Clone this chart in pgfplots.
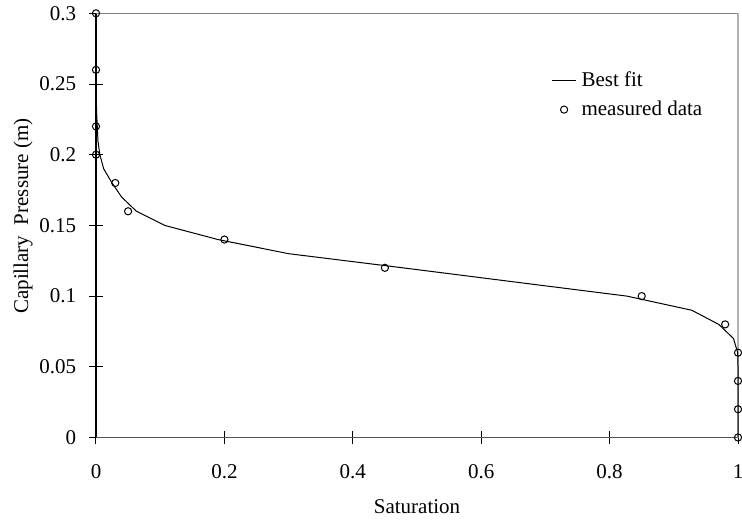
\documentclass[border=0pt]{standalone}
\usepackage{pgfplots}
\pgfplotsset{compat=1.18}
\usepackage{fontspec}
\setmainfont{Liberation Serif}
\begin{document}
\fontsize{10.5}{12.5}\selectfont
\begin{tikzpicture}
\path[use as bounding box] (-48pt,-41.25pt) rectangle (323pt,218.75pt);
\begin{axis}[
  scale only axis,
  width=321pt, height=212.1pt,
  xmin=0, xmax=1, ymin=0, ymax=0.3,
  xtick={0,0.2,0.4,0.6,0.8,1},
  ytick={0,0.05,0.1,0.15,0.2,0.25,0.3},
  xticklabels={0,0.2,0.4,0.6,0.8,1},
  yticklabels={0,0.05,0.1,0.15,0.2,0.25,0.3},
  xtick pos=left, ytick pos=left,
  tick align=center,
  major tick length=6.5pt,
  tick style={black, line width=0.5pt},
  axis line style={draw=none},
  clip=false,
  xlabel={Saturation},
  ylabel={Capillary\ \ Pressure (m)},
  x label style={at={(axis description cs:0.5,-0.178)}, anchor=base},
  y label style={at={(axis description cs:-0.1137,0.522)}, anchor=center, rotate=0},
  ticklabel style={font=\fontsize{10.5}{12.5}\selectfont, inner sep=0pt},
  label style={font=\fontsize{10.5}{12.5}\selectfont},
  yticklabel style={anchor=east, xshift=-6.5pt},
  xticklabel style={anchor=north, yshift=-10.25pt},
  legend cell align=left,
  legend style={draw=none, fill=none, at={(axis description cs:0.709,0.8635)}, anchor=north west,
    inner sep=0pt, column sep=2.5pt, row sep=5.6pt, nodes={inner sep=0pt, font=\fontsize{10.5}{12.5}\selectfont}},
]
\draw[black, line width=0.65pt] (rel axis cs:0,0) -- (rel axis cs:0,1);
\draw[black!67, line width=0.8pt] (rel axis cs:0,0) -- (rel axis cs:1,0);
\draw[black!50, line width=0.6pt] (rel axis cs:0,1) -- (rel axis cs:1,1);
\draw[black!30, line width=0.6pt] (rel axis cs:1,0) -- (rel axis cs:1,1);
\addplot[black, line width=0.5pt, no marks,
  legend image code/.code={\draw[black, line width=0.5pt] (0pt,0pt) -- (12pt,0pt);}]
  coordinates {
  (0,0.3) (0,0.25) (0.001,0.23) (0.003,0.21) (0.006,0.2) (0.012,0.19)
  (0.025,0.18) (0.040,0.17) (0.063,0.16) (0.107,0.15) (0.19,0.14)
  (0.30,0.13) (0.478,0.12) (0.652,0.11) (0.827,0.10) (0.928,0.09)
  (0.970,0.08) (0.993,0.07) (0.9995,0.06) (1,0.05) (1,0)
  };
\addlegendentry{Best fit}
\addplot[only marks, mark=o, mark size=1.8pt, mark options={black, line width=0.5pt},
  legend image code/.code={\draw[black, line width=0.5pt] (6pt,0pt) circle (1.8pt);}]
  coordinates {
  (0,0.3) (0,0.26) (0,0.22) (0,0.2) (0.03,0.18) (0.05,0.16) (0.2,0.14)
  (0.45,0.12) (0.85,0.1) (0.98,0.08) (1,0.06) (1,0.04) (1,0.02) (1,0)
  };
\addlegendentry{measured data}
\end{axis}
\end{tikzpicture}
\end{document}
